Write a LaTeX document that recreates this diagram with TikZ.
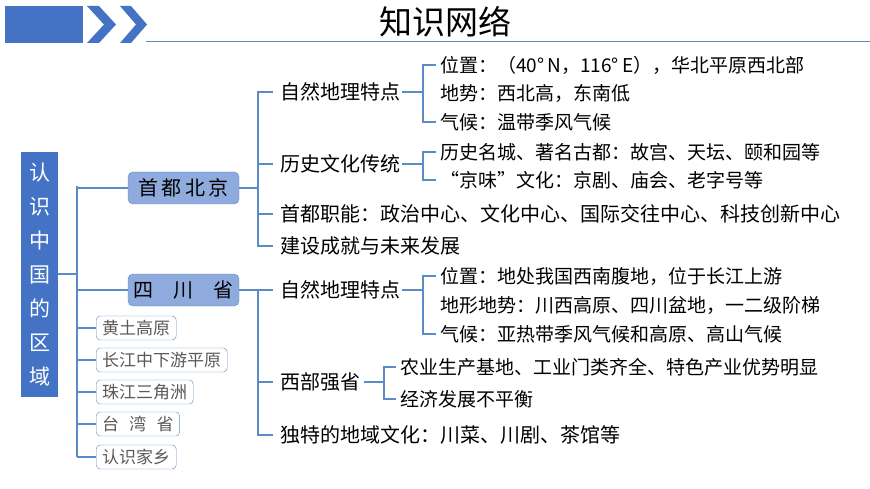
\documentclass[tikz,border=0pt]{standalone}
\usepackage{fontspec}
\setmainfont{Noto Sans CJK SC}
\definecolor{mblue}{HTML}{4472C4}
\definecolor{lblue}{HTML}{5B8BC4}
\definecolor{bfill}{HTML}{8FAADC}
\definecolor{gtext}{HTML}{595959}
\begin{document}
\begin{tikzpicture}[x=1pt,y=-1pt,
  ln/.style={draw=lblue,line width=1.1pt},
  t2/.style={anchor=west,inner sep=0pt,font=\fontsize{20}{20}\selectfont},
  t3/.style={anchor=west,inner sep=0pt,font=\fontsize{19}{19}\selectfont},
  mainbox/.style={draw=lblue,fill=bfill,rounded corners=5pt,minimum width=111pt,minimum height=32pt,font=\fontsize{20}{20}\selectfont,inner sep=0pt},
  sbox/.style={draw=lblue,rounded corners=4pt,minimum height=24pt,anchor=west,inner xsep=6pt,inner ysep=0pt,text=gtext,font=\fontsize{17}{17}\selectfont}]
\useasboundingbox (0,0) rectangle (870,489);
% header
\fill[mblue] (5,6) rectangle (83,43);
\fill[mblue] (87,6) -- (99,6) -- (116,24.5) -- (99,43) -- (87,43) -- (104,24.5) -- cycle;
\fill[mblue] (120,6) -- (131,6) -- (147,24.5) -- (131,43) -- (120,43) -- (136,24.5) -- cycle;
\draw[lblue,line width=0.6pt] (146,41) -- (870,41);
\node (title) at (445,22) {\fontsize{33}{33}\selectfont 知识网络};
% root
\node[fill=mblue,minimum width=37pt,minimum height=245pt,inner sep=0pt,text=white,align=center,font=\fontsize{21}{34}\selectfont] (root) at (39.5,274.5) {认\\识\\中\\国\\的\\区\\域};
\coordinate (tr) at (77,274);
\draw[ln] (root.east |- tr) -- (tr);
\draw[ln] (77,186) -- (77,457);
% level 1
\node[mainbox] (bj) at (183.5,188) {首\,都\,北\,京};
\node[mainbox] (sc) at (183.5,290) {四\quad 川\quad 省};
\node[sbox] (h1) at (96,328) {黄土高原};
\node[sbox] (h2) at (96,360) {长江中下游平原};
\node[sbox] (h3) at (96,392) {珠江三角洲};
\node[sbox] (h4) at (96,424) {台\hspace{0.6em}湾\hspace{0.6em}省};
\node[sbox] (h5) at (96,457) {认识家乡};
\draw[ln] (77,188) -- (bj.west);
\draw[ln] (77,290) -- (sc.west);
\foreach \n in {h1,h2,h3,h4,h5} \draw[ln] (77,0 |- \n.west) -- (\n.west);
% Beijing
\node[t2] (b1) at (280,92) {自然地理特点};
\node[t2] (b2) at (280,164) {历史文化传统};
\node[t2] (b3) at (280,214) {首都职能：政治中心、文化中心、国际交往中心、科技创新中心};
\node[t2] (b4) at (280,246) {建设成就与未来发展};
\draw[ln] (bj.east) -- (258,188);
\draw[ln] (273,92) -- (258,92) -- (258,246) -- (273,246);
\draw[ln] (258,164) -- (273,164);
\draw[ln] (258,214) -- (273,214);
\node[t3] (b11) at (440,65) {位置：（40°\,N，116°\,E），华北平原西北部};
\node[t3] (b12) at (440,93) {地势：西北高，东南低};
\node[t3] (b13) at (440,122) {气候：温带季风气候};
\draw[ln] (b1.east) ++(2,0) -- (423,92);
\draw[ln] (436,65) -- (423,65) -- (423,122) -- (436,122);
\node[t3] (b21) at (440,152) {历史名城、著名古都：故宫、天坛、颐和园等};
\node[t3] (b22) at (440,180) {“京味”文化：京剧、庙会、老字号等};
\draw[ln] (b2.east) ++(2,0) -- (423,164);
\draw[ln] (436,152) -- (423,152) -- (423,180) -- (436,180);
% Sichuan
\node[t2] (s1) at (280,290) {自然地理特点};
\node[t2] (s2) at (280,382) {西部强省};
\node[t2] (s3) at (280,435) {独特的地域文化：川菜、川剧、茶馆等};
\draw[ln] (sc.east) -- (273,290);
\draw[ln] (258,290) -- (258,435) -- (273,435);
\draw[ln] (258,382) -- (273,382);
\node[t3] (s11) at (440,276) {位置：地处我国西南腹地，位于长江上游};
\node[t3] (s12) at (440,305) {地形地势：川西高原、四川盆地，一二级阶梯};
\node[t3] (s13) at (440,334) {气候：亚热带季风气候和高原、高山气候};
\draw[ln] (s1.east) ++(2,0) -- (423,290);
\draw[ln] (436,276) -- (423,276) -- (423,334) -- (436,334);
\node[t3] (s21) at (400,367) {农业生产基地、工业门类齐全、特色产业优势明显};
\node[t3] (s22) at (400,399) {经济发展不平衡};
\draw[ln] (s2.east) ++(4,0) -- (384,382);
\draw[ln] (396,367) -- (384,367) -- (384,399) -- (396,399);
\end{tikzpicture}
\end{document}
